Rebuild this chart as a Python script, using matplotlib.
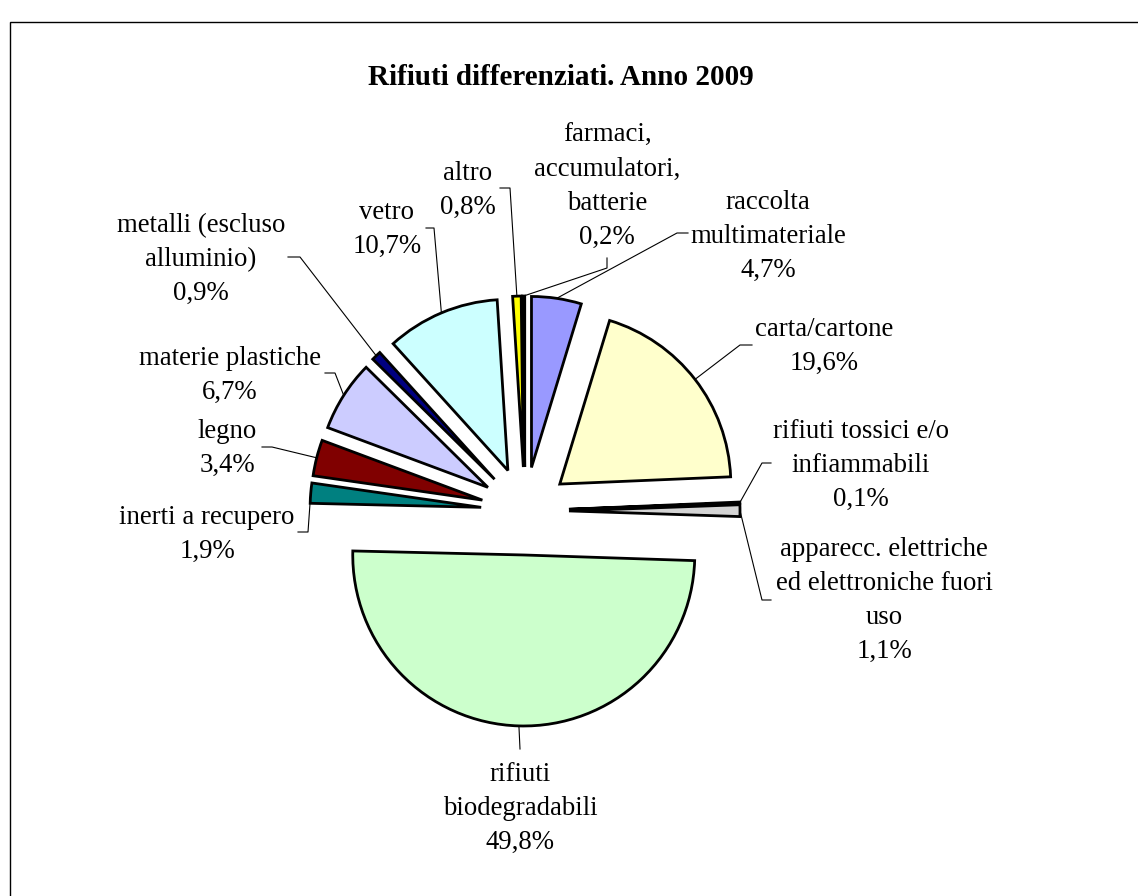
import matplotlib

matplotlib.use("Agg")
import matplotlib.pyplot as plt
import numpy as np

W, H = 1138, 896

# slices, clockwise from 12 o'clock
names = [
    "raccolta\nmultimateriale",
    "carta/cartone",
    "rifiuti tossici e/o\ninfiammabili",
    "apparecc. elettriche\ned elettroniche fuori\nuso",
    "rifiuti\nbiodegradabili",
    "inerti a recupero",
    "legno",
    "materie plastiche",
    "metalli (escluso\nalluminio)",
    "vetro",
    "altro",
    "farmaci,\naccumulatori,\nbatterie",
]
values = [4.7, 19.6, 0.1, 1.1, 49.8, 1.9, 3.4, 6.7, 0.9, 10.7, 0.8, 0.2]
colors = ["#9999FF", "#FFFFCC", "#993366", "#D4D4D4", "#CCFFCC", "#008080",
          "#800000", "#CCCCFF", "#000080", "#CCFFFF", "#FFFF00", "#1F4F4F"]

# label layout, image pixels (y measured from top)
label_xy = [(768, 236), (824, 346), (861, 465), (884, 600), (520, 808), (207, 534),
            (227, 448), (230, 375), (201, 259), (387, 229), (468, 190), (607, 186)]
elbow_xy = [(677, 233), (740, 345), (762, 463), (762, 600), (520, 749), (308, 532),
            (272, 447), (335, 373), (300, 257), (434, 228), (510, 188), (607, 268)]
tick_xy = [(688, 233), (752, 345), (771, 463), (771, 600), (520, 749), (298, 532),
           (262, 447), (325, 373), (288, 257), (426, 228), (500, 188), (607, 258)]

FONT = "Liberation Serif"
LINE = 34  # px between text lines

fig = plt.figure(figsize=(W / 100, H / 100), dpi=100)
ax = fig.add_axes([0, 0, 1, 1])

R = 171
wedges, _ = ax.pie(
    values,
    colors=colors,
    startangle=90,
    counterclock=False,
    explode=[44] * len(values),
    radius=R,
    center=(525, H - 511),
    wedgeprops=dict(edgecolor="black", linewidth=2.0),
)
ax.set_xlim(0, W)
ax.set_ylim(0, H)
ax.set_aspect("equal")
ax.axis("off")

for w, name, v, (lx, ly), (ex, ey), (tx, ty) in zip(
    wedges, names, values, label_xy, elbow_xy, tick_xy
):
    tm = np.deg2rad((w.theta1 + w.theta2) / 2)
    axp = w.center[0] + w.r * np.cos(tm)
    ayp = w.center[1] + w.r * np.sin(tm)
    ax.plot([axp, ex, tx], [ayp, H - ey, H - ty], color="black", lw=0.8)
    pct = f"{v:.1f}".replace(".", ",") + "%"
    lines = name.split("\n") + [pct]
    n = len(lines)
    for i, line in enumerate(lines):
        yc = ly + (i - (n - 1) / 2) * LINE
        ax.text(lx, H - (yc + 7), line, ha="center", va="baseline",
                fontsize=19.3, family=FONT)

ax.text(561, H - 77, "Rifiuti differenziati. Anno 2009", ha="center", va="center",
        fontsize=21, fontweight="bold", family=FONT)

# chart area frame (runs off the right and bottom edge)
ax.add_patch(plt.Rectangle((10, -20), 1200, H - 22 + 20, fill=False, lw=1.0,
                           ec="black", clip_on=False))

fig.savefig("out.png", dpi=100)
